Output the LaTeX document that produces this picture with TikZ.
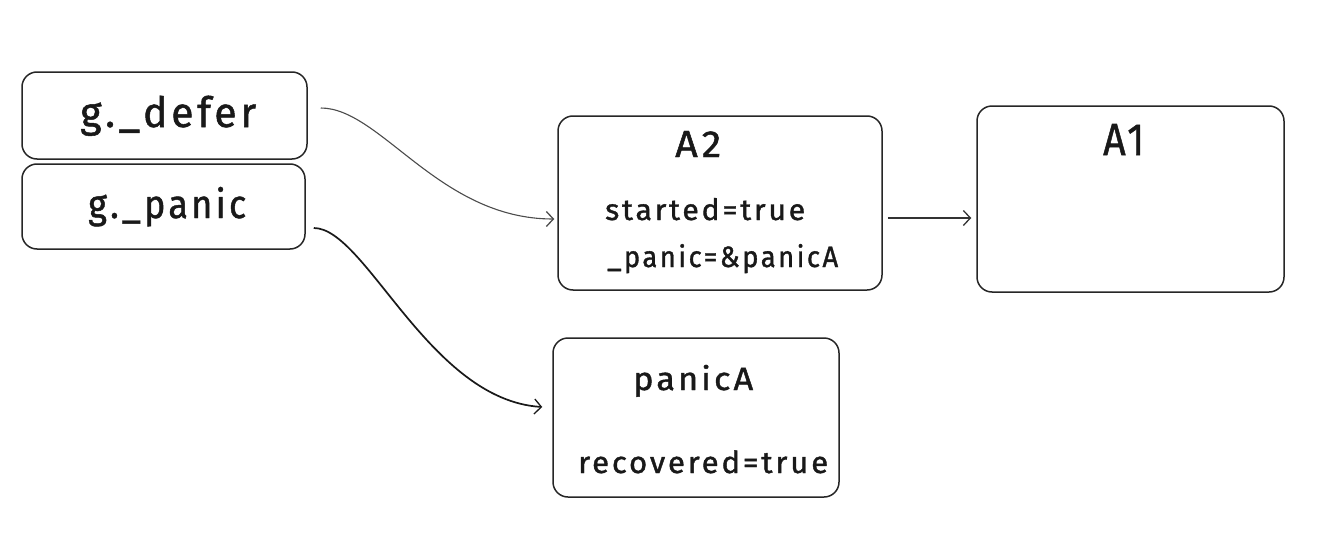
\documentclass[tikz,border=0pt]{standalone}
\usepackage{fontspec}
\setmainfont[LetterSpace=9,FakeBold=1.2]{Fira Sans}
\usepackage{graphicx}
\usetikzlibrary{arrows.meta}
% #1 target width (pt), #2 target x-height (pt), #3 text
\newcommand\fitx[3]{%
  \setbox0=\hbox{#3}%
  \dimen0=\wd0 \dimen2=\fontdimen5\font
  \pgfmathsetmacro\fsx{#1/\the\dimen0}%
  \pgfmathsetmacro\fsy{#2/\the\dimen2}%
  \scalebox{\fsx}[\fsy]{\box0}}
% #1 target width (pt), #2 target cap height (pt), #3 text
\newcommand\fitc[3]{%
  \setbox0=\hbox{#3}%
  \dimen0=\wd0 \dimen2=\fontcharht\font`A
  \pgfmathsetmacro\fsx{#1/\the\dimen0}%
  \pgfmathsetmacro\fsy{#2/\the\dimen2}%
  \scalebox{\fsx}[\fsy]{\box0}}
\tikzset{
  box/.style={draw=black!85, line width=1.5pt, rounded corners=15pt, fill=white, inner sep=0pt},
  txt/.style={anchor=base west, inner sep=0pt, text=black!90},
  conn/.style={draw=black!80, line width=1.3pt, -{Straight Barb[length=7pt,width=15pt,line width=1.3pt]}},
  connthin/.style={conn, draw=black!70, line width=1.1pt},
  connthick/.style={conn, draw=black!90, line width=1.7pt}
}
\begin{document}
\begin{tikzpicture}[x=1pt,y=-1pt]
\useasboundingbox[fill=white] (0,0) rectangle (1327,551);
% boxes
\node[box, minimum width=285pt, minimum height=87pt] (defer) at (164.5,115.5) {};
\node[box, minimum width=283pt, minimum height=85pt] (panic) at (163.5,206.5) {};
\node[box, minimum width=324pt, minimum height=174pt] (A2) at (720,203) {};
\node[box, minimum width=307pt, minimum height=186pt] (A1) at (1130.5,199) {};
\node[box, minimum width=286pt, minimum height=159pt] (panicA) at (696,417.5) {};
% texts
\node[txt] (tdefer) at (80,127) {\fitx{176}{22}{g.\_defer}};
\node[txt] (tpanic) at (88,218) {\fitx{158}{21}{g.\_panic}};
\node[txt] (tA2) at (675,157) {\fitc{46}{26}{A2}};
\node[txt] (tA1) at (1103,155) {\fitc{41}{31}{A1}};
\node[txt] (tstarted) at (605,220) {\fitx{200}{15.5}{started=true}};
\node[txt] (tpanicptr) at (607,267) {\fitx{231}{15.5}{\_panic=\&panicA}};
\node[txt] (tpanicA) at (633,390) {\fitx{120}{17}{panicA}};
\node[txt] (trecovered) at (578,473) {\fitx{250}{16}{recovered=true}};
% connectors
\coordinate (s1) at ([xshift=13pt,yshift=7.5pt]defer.east);
\coordinate (e1) at ([xshift=-3pt,yshift=-16pt]A2.west);
\draw[connthin] (s1) .. controls +(60,0) and +(-115,0) .. (e1);
\coordinate (s2) at ([xshift=8pt,yshift=-21.5pt]panic.east);
\coordinate (e2) at ([xshift=-10pt,yshift=10.5pt]panicA.west);
\draw[connthick] (s2) .. controls +(52,0) and +(-113,-7) .. (e2);
\coordinate (s3) at ([xshift=5pt,yshift=-15pt]A2.east);
\coordinate (e3) at ([xshift=-5pt,yshift=-19pt]A1.west);
\draw[conn] (s3) -- (e3);
\end{tikzpicture}
\end{document}
